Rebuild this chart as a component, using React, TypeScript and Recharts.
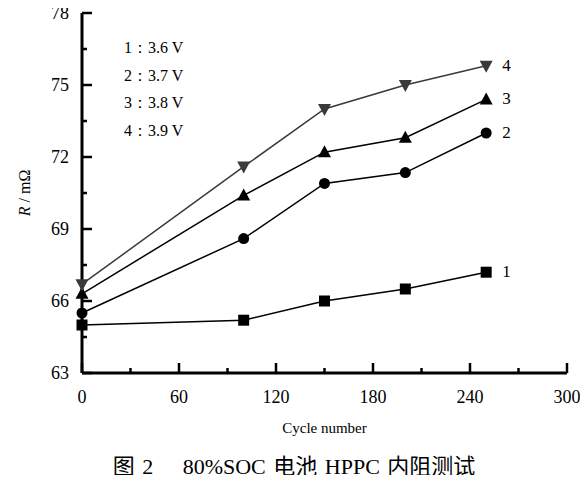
import React from "react"
import { LineChart, Line, XAxis, YAxis } from "recharts"

const cycles = [0, 100, 150, 200, 250]
const r36 = [65.0, 65.2, 66.0, 66.5, 67.2]
const r37 = [65.5, 68.6, 70.9, 71.35, 73.0]
const r38 = [66.3, 70.4, 72.2, 72.8, 74.4]
const r39 = [66.7, 71.6, 74.0, 75.0, 75.8]

const xTicks = [0, 30, 60, 90, 120, 150, 180, 210, 240, 270, 300]
const yTicks = [63, 64.5, 66, 67.5, 69, 70.5, 72, 73.5, 75, 76.5, 78]
const legendLines = ["1：3.6 V", "2：3.7 V", "3：3.8 V", "4：3.9 V"]

const data = cycles.map((c, i) => ({ cycle: c, s1: r36[i], s2: r37[i], s3: r38[i], s4: r39[i] }))

const serif = '"Liberation Serif", "Times New Roman", serif'

const XTick = (props: any) => {
  const { x, y, payload } = props
  const major = payload.value % 60 === 0
  return (
    <g>
      <line x1={x} x2={x} y1={y} y2={y - (major ? 10 : 5)} stroke="#000" strokeWidth={2.5} />
      {major && (
        <text x={x} y={y + 30} textAnchor="middle" fontSize={18} fontFamily={serif} fill="#000">
          {payload.value}
        </text>
      )}
    </g>
  )
}

const YTick = (props: any) => {
  const { x, y, payload } = props
  const major = payload.value % 3 === 0
  return (
    <g>
      <line x1={x} x2={x + (major ? 10 : 5)} y1={y} y2={y} stroke="#000" strokeWidth={2.5} />
      {major && (
        <text x={x - 13} y={y + 6} textAnchor="end" fontSize={18} fontFamily={serif} fill="#000">
          {payload.value}
        </text>
      )}
    </g>
  )
}

const makeDot = (kind: string, color: string) => (props: any) => {
  const { cx, cy, index } = props
  if (cx == null || cy == null) return <g key={index} />
  if (kind === "square") return <rect key={index} x={cx - 5.5} y={cy - 5.5} width={11} height={11} fill={color} />
  if (kind === "circle") return <circle key={index} cx={cx} cy={cy} r={5.5} fill={color} />
  if (kind === "up")
    return <polygon key={index} points={`${cx},${cy - 7} ${cx - 6.5},${cy + 5} ${cx + 6.5},${cy + 5}`} fill={color} />
  return <polygon key={index} points={`${cx},${cy + 7} ${cx - 6.5},${cy - 5} ${cx + 6.5},${cy - 5}`} fill={color} />
}

const endLabel = (text: string) => (props: any) => {
  const { x, y, index } = props
  if (index !== cycles.length - 1) return null
  return (
    <text x={x + 16} y={y + 5} fontSize={17} fontFamily={serif} fill="#000">
      {text}
    </text>
  )
}

const YLabel = (props: any) => {
  const { viewBox } = props
  const cy = viewBox.y + viewBox.height / 2
  return (
    <text x={22} y={cy} transform={`rotate(-90 22 ${cy})`} textAnchor="middle" fontSize={16} fontFamily={serif} fill="#000">
      <tspan fontStyle="italic">R</tspan> / mΩ
    </text>
  )
}

export default function App() {
  return (
    <div style={{ position: "relative", width: 572, height: 471, marginTop: -4 }}>
      <LineChart width={572} height={471} data={data} margin={{ top: 9, right: 13, left: 34, bottom: 42 }}>
        <XAxis
          dataKey="cycle"
          type="number"
          domain={[0, 300]}
          ticks={xTicks}
          interval={0}
          tickSize={0}
          tickMargin={0}
          tick={<XTick />}
          axisLine={{ stroke: "#000", strokeWidth: 3 }}
          height={60}
          label={{ value: "Cycle number", position: "insideBottom", offset: 0, fontSize: 15, fontFamily: serif, fill: "#000" }}
        />
        <XAxis xAxisId="top" orientation="top" type="number" domain={[0, 300]} tick={false} height={0} axisLine={{ stroke: "#000", strokeWidth: 3 }} />
        <YAxis
          type="number"
          domain={[63, 78]}
          ticks={yTicks}
          interval={0}
          tickSize={0}
          tickMargin={0}
          tick={<YTick />}
          axisLine={{ stroke: "#000", strokeWidth: 3 }}
          width={40}
          label={<YLabel />}
        />
        <YAxis yAxisId="right" orientation="right" type="number" domain={[63, 78]} tick={false} width={0} axisLine={{ stroke: "#000", strokeWidth: 3 }} />
        <Line dataKey="s1" stroke="#000" strokeWidth={1.5} dot={makeDot("square", "#000")} isAnimationActive={false} label={endLabel("1")} />
        <Line dataKey="s2" stroke="#000" strokeWidth={1.5} dot={makeDot("circle", "#000")} isAnimationActive={false} label={endLabel("2")} />
        <Line dataKey="s3" stroke="#000" strokeWidth={1.5} dot={makeDot("up", "#000")} isAnimationActive={false} label={endLabel("3")} />
        <Line dataKey="s4" stroke="#3a3a3a" strokeWidth={1.5} dot={makeDot("down", "#3a3a3a")} isAnimationActive={false} label={endLabel("4")} />
      </LineChart>
      <div style={{ position: "absolute", left: 116, top: 30, fontFamily: serif, fontSize: 16, lineHeight: "27.5px", color: "#000" }}>
        {legendLines.map((t) => (
          <div key={t}>{t}</div>
        ))}
      </div>
      <div
        style={{
          position: "absolute",
          left: 0,
          width: 572,
          top: 444,
          textAlign: "center",
          fontFamily: '"Liberation Serif", "Noto Sans CJK SC", serif',
          fontSize: 22,
          wordSpacing: 2,
          color: "#000",
          whiteSpace: "pre",
        }}
      >
        图 2　 80%SOC 电池 HPPC 内阻测试
      </div>
    </div>
  )
}
